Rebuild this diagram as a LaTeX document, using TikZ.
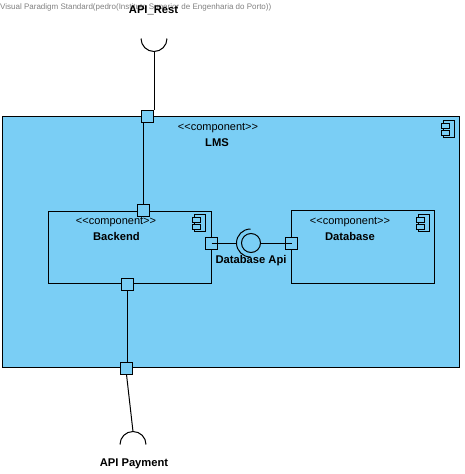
\documentclass[tikz,border=0pt]{standalone}
\usepackage{fontspec}
\setmainfont{Liberation Sans}
\usepackage{xcolor}
\definecolor{compblue}{RGB}{122,206,245}

\tikzset{
  comp/.style={draw=black, fill=compblue, line width=1pt, inner sep=0pt, anchor=north west},
  port/.style={draw=black, fill=compblue, line width=1pt, inner sep=0pt, minimum size=12pt},
  wire/.style={draw=black, line width=1pt},
  lolli/.style={draw=black, line width=1pt, circle, inner sep=0pt, minimum size=19pt},
  stereo/.style={font=\fontsize{11}{13}\selectfont, inner sep=0pt},
  title/.style={font=\fontsize{11.2}{13}\selectfont\bfseries, inner sep=0pt},
  stamp/.style={font=\fontsize{8}{10}\selectfont, text=black!50, inner sep=0pt, anchor=west},
  compicon/.pic={
    \draw[line width=1pt] (2,-3) rectangle (13,14);
    \draw[line width=1pt, fill=compblue] (0,0) rectangle (8,5);
    \draw[line width=1pt, fill=compblue] (0,7) rectangle (8,12);
  }
}

\begin{document}
\begin{tikzpicture}[x=1pt, y=-1pt]
\useasboundingbox (0,0) rectangle (464,474);

%% components
\node[comp, minimum width=457pt, minimum height=251pt] (lms) at (2,116) {};
\node[comp, minimum width=162.5pt, minimum height=72pt] (backend) at (48,211) {};
\node[comp, minimum width=143pt, minimum height=73pt] (database) at (291,210) {};

\pic at (441,123) {compicon};
\pic at (192,217) {compicon};
\pic at (416,217) {compicon};

%% ports
\node[port] (lmstop) at (147.5,116.5) {};
\node[port] (lmsbot) at (126.5,368) {};
\node[port] (backtop) at (143.7,210) {};
\node[port] (backbot) at (127.7,284) {};
\node[port] (backapi) at (211.5,243) {};
\node[port] (dbapi) at (291.5,243) {};

%% interfaces
\coordinate (restsock) at (154,51.5);
\coordinate (paysock) at (133,431.5);
\coordinate (apisock) at (250.5,229);
\coordinate (apiwest) at (236.5,243);
\node[lolli] (apicircle) at (251,243) {};

\draw[wire] ([xshift=-13pt,yshift=13pt]restsock) arc[start angle=180, end angle=360, radius=13pt];
\draw[wire] ([xshift=-13pt,yshift=-13pt]paysock) arc[start angle=180, end angle=0, radius=13pt];
\draw[wire] (apisock) arc[start angle=90, end angle=270, radius=14pt];

\draw[wire] (lmstop.north east) -- (restsock);
\draw[wire] (backtop.north) -- (backtop.north |- lmstop.south);
\draw[wire] (backbot.south) -- (backbot.south |- lmsbot.north);
\draw[wire] (lmsbot.south) -- (paysock);
\draw[wire] (backapi.center) -- (apiwest);
\draw[wire] (apicircle.east) -- (dbapi.center);

%% labels
\node[stereo] (lmsstereo) at (218,128) {<{}<component>{}>};
\node[title] (lmstitle) at (217,142.5) {LMS};
\node[stereo] (backstereo) at (116,222.5) {<{}<component>{}>};
\node[title] (backtitle) at (116.5,236.5) {Backend};
\node[stereo] (dbstereo) at (350,222.5) {<{}<component>{}>};
\node[title] (dbtitle) at (350,236.5) {Database};
\node[title] (apitext) at (251,260.5) {Database Api};
\node[stamp] (stampline) at (0,7) {Visual Paradigm Standard(pedro(Instituto Superior de Engenharia do Porto))};
\node[title] (resttext) at (153.5,10) {API\_Rest};
\node[title] (paytext) at (134,463.5) {API Payment};

\end{tikzpicture}
\end{document}
